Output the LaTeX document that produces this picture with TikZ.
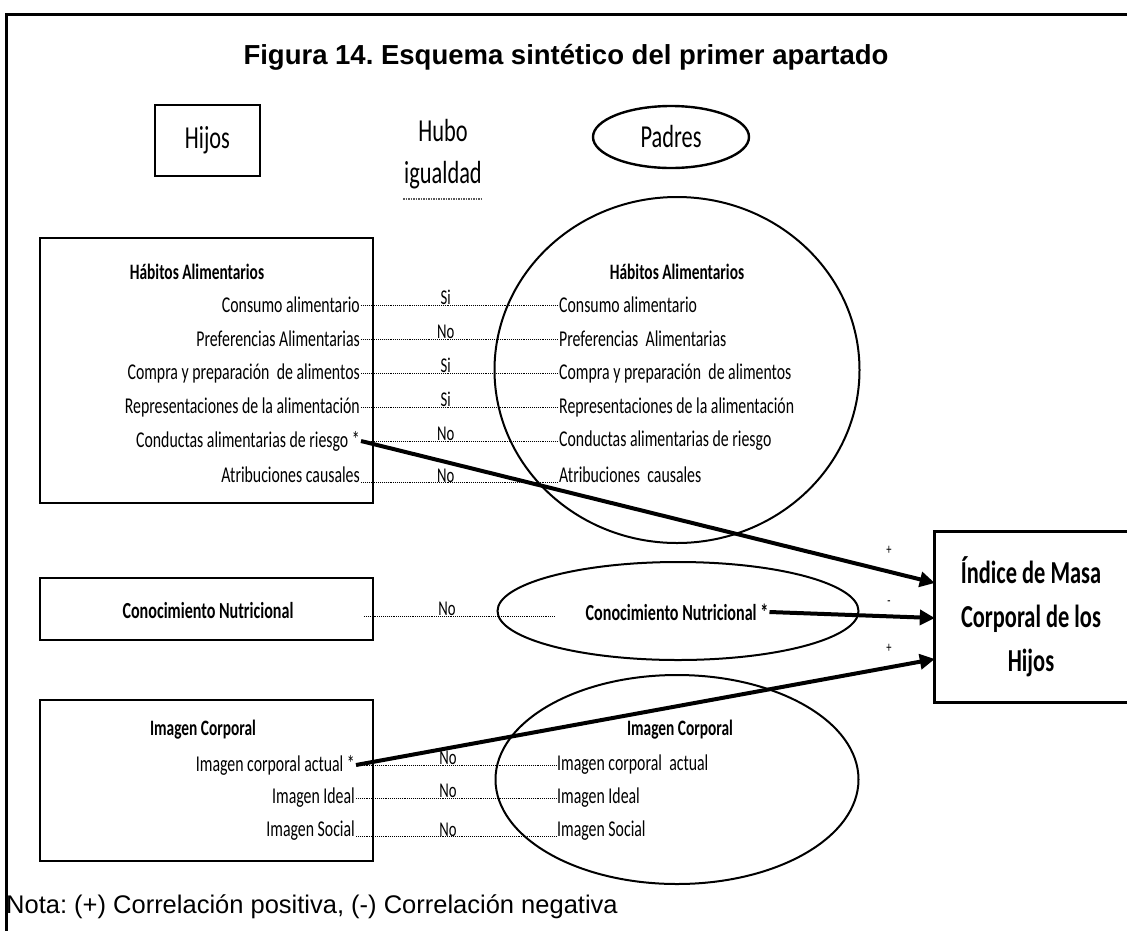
\documentclass[tikz,border=0pt]{standalone}
\usepackage{fontspec}
\setmainfont{Carlito}
\newfontfamily\narrowf[FakeStretch=0.7]{Carlito}
\newfontfamily\arialf{Liberation Sans}
\usetikzlibrary{shapes.geometric,arrows.meta}
\frenchspacing
\begin{document}
\begin{tikzpicture}[x=1pt,y=-1pt,
 every node/.style={inner sep=1pt},
 txt/.style={font=\narrowf\fontsize{22.6}{25}\selectfont},
 big/.style={font=\narrowf\fontsize{32}{42}\selectfont, align=center},
 head/.style={font=\narrowf\bfseries\fontsize{22}{24}\selectfont},
 litem/.style={txt, anchor=east},
 ritem/.style={txt, anchor=west},
 frame/.style={draw, line width=2.7pt},
 oval/.style={ellipse, draw, line width=2pt, inner sep=0pt},
 dotline/.style={densely dotted, line width=0.9pt},
 lab/.style={anchor=south, inner sep=0pt, font=\narrowf\fontsize{21}{23}\selectfont},
 bigarrow/.style={line width=4pt, -{Triangle[length=15pt,width=15pt]}},
 sign/.style={font=\narrowf\fontsize{15}{16}\selectfont}
]
\useasboundingbox (0,0) rectangle (1127,930);

% outer frame
\coordinate (fa) at (6,932);
\coordinate (fb) at (6,14);
\coordinate (fc) at (1130,14);
\draw[line width=3pt] (fa) -- (fb) -- (fc);

% title
\node[font=\arialf\bfseries\fontsize{27.5}{30}\selectfont] (title) at (566,57) {Figura 14. Esquema sintético del primer apartado};

% legend row
\node[frame, big, minimum width=105, minimum height=71] (hijos) at (207.5,140.5) {Hijos};
\node[big] (hubo) at (443,154) {Hubo\\igualdad};
\coordinate (u1) at (403,199);
\coordinate (u2) at (482,199);
\draw[densely dotted, line width=1.5pt, gray!70!black] (u1) -- (u2);
\node[oval, line width=2.4pt, big, minimum width=156, minimum height=62] (padres) at (671,137) {Padres};

% Habitos alimentarios
\node[frame, minimum width=333, minimum height=265] (habL) at (206.5,370.5) {};
\node[oval, minimum width=365, minimum height=346] (habP) at (677,370) {};
\node[head] (habLh) at (197,272) {Hábitos Alimentarios};
\node[head] (habPh) at (677,272) {Hábitos Alimentarios};

\node[litem] (l1) at (361,305) {Consumo alimentario};
\node[litem] (l2) at (361,339) {Preferencias Alimentarias};
\node[litem] (l3) at (361,373) {Compra y preparación\, de alimentos};
\node[litem] (l4) at (361,407) {Representaciones de la alimentación};
\node[litem] (l5) at (361,441) {Conductas alimentarias de riesgo *};
\node[litem] (l6) at (361,475) {Atribuciones causales};

\node[ritem] (r1) at (558,305) {Consumo alimentario};
\node[ritem] (r2) at (558,339) {Preferencias\, Alimentarias};
\node[ritem] (r3) at (558,373) {Compra y preparación\, de alimentos};
\node[ritem] (r4) at (558,407) {Representaciones de la alimentación};
\node[ritem] (r5) at (558,441) {Conductas alimentarias de riesgo};
\node[ritem] (r6) at (558,475) {Atribuciones\, causales};

\draw[dotline] (l1.east) -- (r1.west) node[lab, pos=0.43] {Si};
\draw[dotline] (l2.east) -- (r2.west) node[lab, pos=0.43] {No};
\draw[dotline] (l3.east) -- (r3.west) node[lab, pos=0.43] {Si};
\draw[dotline] (l4.east) -- (r4.west) node[lab, pos=0.43] {Si};
\draw[dotline] (l5.east) -- (r5.west) node[lab, pos=0.43] {No};
\draw[dotline] (l6.base east) -- (r6.base west) node[lab, pos=0.43] {No};

% Conocimiento nutricional
\node[frame, minimum width=333, minimum height=62] (conL) at (206.5,609) {};
\node[head, font=\narrowf\bfseries\fontsize{23}{25}\selectfont] (conLt) at (208,611) {Conocimiento Nutricional};
\node[oval, minimum width=361, minimum height=98] (conP) at (678,611) {};
\node[head, font=\narrowf\bfseries\fontsize{23}{25}\selectfont] (conPt) at (677,612) {Conocimiento Nutricional *};
\coordinate (cA) at (364,616);
\coordinate (cB) at (555,616);
\draw[dotline] (cA) -- (cB) node[lab, pos=0.435] {No};

% Imagen corporal
\node[frame, minimum width=333, minimum height=161] (imgL) at (206.5,780.5) {};
\node[oval, minimum width=363, minimum height=209] (imgP) at (677,779.5) {};
\node[head] (imgLh) at (203,730) {Imagen Corporal};
\node[head] (imgPh) at (680,730) {Imagen Corporal};

\node[litem] (i1) at (356,765) {Imagen corporal actual *};
\node[litem] (i2) at (356,798) {Imagen Ideal};
\node[litem] (i3) at (356,831) {Imagen Social};
\node[ritem] (j1) at (556,765) {Imagen corporal\, actual};
\node[ritem] (j2) at (556,798) {Imagen Ideal};
\node[ritem] (j3) at (556,831) {Imagen Social};

\draw[dotline] (i1.east) -- (j1.west) node[lab, pos=0.46] {No};
\draw[dotline] (i2.east) -- (j2.west) node[lab, pos=0.46] {No};
\draw[dotline] (i3.base east) -- (j3.base west) node[lab, pos=0.46] {No};

% IMC box
\node[font=\narrowf\bfseries\fontsize{32}{44}\selectfont, align=center, minimum width=192, minimum height=170] (imc) at (1031,617) {Índice de Masa\\Corporal de los\\Hijos};
\draw[frame] ([xshift=10pt]imc.north east) -- (imc.north west) -- (imc.south west) -- ([xshift=10pt]imc.south east);

% arrows
\draw[bigarrow] (l5.east) -- ([yshift=34pt]imc.west);
\draw[bigarrow] (conPt.east) -- ([yshift=-1pt]imc.west);
\draw[bigarrow] (i1.east) -- ([yshift=-42pt]imc.west);

\node[sign] (s1) at (889,550) {+};
\node[sign] (s2) at (889,603) {-};
\node[sign] (s3) at (889,648) {+};

% note
\node[anchor=west, font=\arialf\fontsize{25.5}{28}\selectfont] (nota) at (5,907) {Nota: (+) Correlación positiva, (-) Correlación negativa};
\end{tikzpicture}
\end{document}
